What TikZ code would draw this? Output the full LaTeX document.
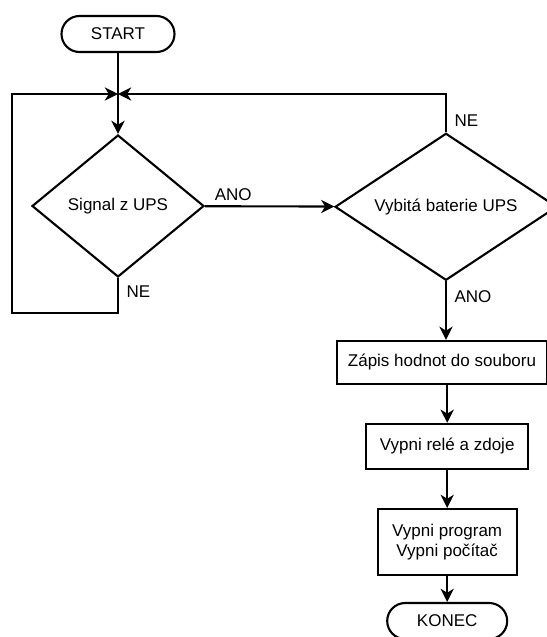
\documentclass[tikz,border=0pt]{standalone}
\usepackage{fontspec}
\setmainfont{Liberation Sans}
\usepackage{tikz}
\usetikzlibrary{positioning}
\usetikzlibrary{shapes.geometric}
\usetikzlibrary{arrows.meta}

\begin{document}
\begin{tikzpicture}
    [%%%%%%%%%%%%%%%%%%%%%%%%%%%%%%
        every node/.style={font=\fontsize{12.1}{14}\selectfont},
        term/.style={rectangle,rounded corners=0.45cm,draw=black,line width=1.5pt,minimum height=0.9cm},
        decision/.style={diamond,draw=black,line width=1.5pt,inner sep=0pt,aspect=1.5},
        box/.style={rectangle,draw=black,line width=1.5pt,align=center},
        link/.style={->,line width=1.5pt},
        >={Stealth[length=3.3mm,width=3.3mm,inset=1mm]}
    ]%%%%%%%%%%%%%%%%%%%%%%%%%%%%%%
\useasboundingbox (0,0) rectangle (13.675,-15.925);

\node[term,minimum width=2.825cm] (start) at (2.95,-0.85) {START};
\coordinate (join) at (2.95,-2.35);
\node[decision,minimum width=4.3cm,minimum height=3.55cm] (ups) at (2.95,-5.15) {Signal z UPS};
\node[decision,minimum width=5.55cm,minimum height=3.675cm] (bat) at (11.15,-5.17) {Vybitá baterie UPS};

\node[box,minimum width=5.25cm,minimum height=1.075cm] (save) at (11.05,-9.06) {Zápis hodnot do souboru};
\node[box,minimum width=4.05cm,minimum height=1.125cm] (relay) at (11.18,-11.16) {Vypni relé a zdoje};
\node[box,minimum width=3.475cm,minimum height=1.65cm] (off) at (11.18,-13.55) {Vypni program\\Vypni počítač};
\node[term,minimum width=3cm] (konec) at (11.18,-15.525) {KONEC};

\coordinate (loopL) at (0.3,-7.825);

\draw [link] (start) -- (ups);

\draw [link] (ups) -- node [above,pos=0.22] {ANO} (bat);

\draw [link] (ups.south) -- node [right=2pt,pos=0.4] {NE} (ups.south |- loopL) -- (loopL) |- (join);

\draw [link] (bat.north) -- node [right=2pt,pos=0.3] {NE} (bat.north |- join) -- (join);

\draw [link] (bat.south) -- node [right=2pt,pos=0.26] {ANO} (bat.south |- save.north);

\draw [link] (save.south -| relay.north) -- (relay.north);

\draw [link] (relay) -- (off);

\draw [link] (off) -- (konec);

\end{tikzpicture}
\end{document}
